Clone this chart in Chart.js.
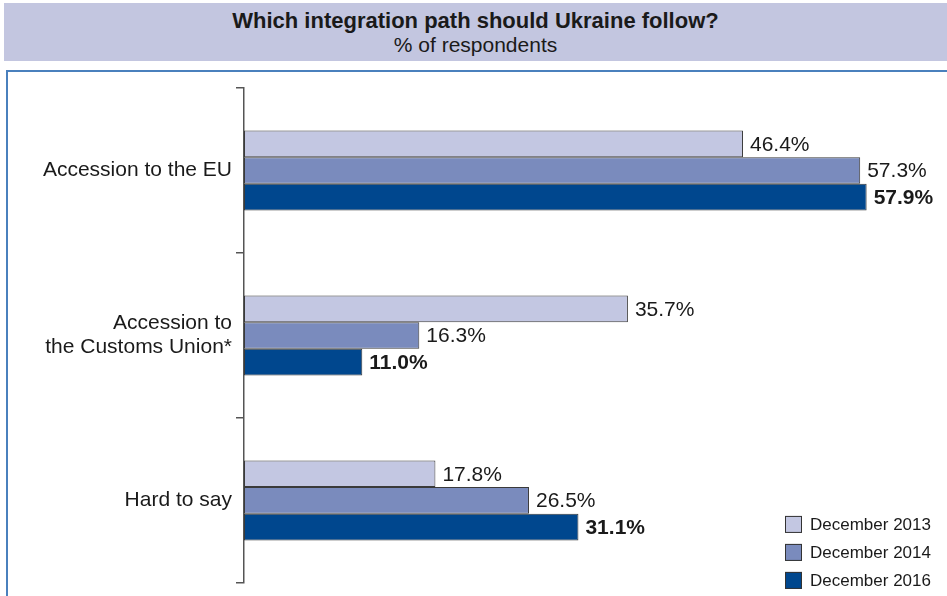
<!DOCTYPE html>
<html>
<head>
<meta charset="utf-8">
<script src="https://cdn.jsdelivr.net/npm/chart.js@4"></script>
<style>
  body { margin: 0; width: 947px; height: 596px; overflow: hidden; background: #fff; font-family: "Liberation Sans", Arial, sans-serif; position: relative; }
  .band { position: absolute; left: 4px; top: 3px; width: 943px; height: 58px; background: #c3c6e0; color: #1a1a1a; text-align: center; }
  .band .t1 { font-weight: bold; font-size: 22px; line-height: 24px; margin-top: 6px; }
  .band .t2 { font-size: 21px; line-height: 23px; }
  .panel { position: absolute; left: 6px; top: 70px; width: 960px; height: 560px; border: 2px solid #4a80bd; box-sizing: border-box; }
  #wrap { position: absolute; left: 0; top: 0; width: 947px; height: 599px; }
</style>
</head>
<body>
<div class="band">
  <div class="t1">Which integration path should Ukraine follow?</div>
  <div class="t2">% of respondents</div>
</div>
<div class="panel"></div>
<div id="wrap"><canvas id="chart"></canvas></div>
<script>
// data
const categories = ['Accession to the EU', ['Accession to', 'the Customs Union*'], 'Hard to say'];
const seriesLabels = ['December 2013', 'December 2014', 'December 2016'];
const dec2013 = [46.4, 35.7, 17.8];
const dec2014 = [57.3, 16.3, 26.5];
const dec2016 = [57.9, 11.0, 31.1];

const colors = ['#c3c7e2', '#7a8bbd', '#00478e'];
const FONT = '"Liberation Sans", Arial, sans-serif';

// value labels at the end of each bar
const valueLabels = {
    id: 'valueLabels',
    afterDatasetsDraw(chart) {
        const ctx = chart.ctx;
        ctx.save();
        ctx.fillStyle = '#1a1a1a';
        ctx.textBaseline = 'middle';
        ctx.textAlign = 'left';
        chart.data.datasets.forEach((ds, di) => {
            const meta = chart.getDatasetMeta(di);
            ctx.font = (di === 2 ? 'bold ' : '') + '21px ' + FONT;
            meta.data.forEach((bar, i) => {
                ctx.fillText(ds.data[i].toFixed(1) + '%', bar.x + 7, bar.y + 1);
            });
        });
        ctx.restore();
    }
};

// legend in the lower right corner of the plot
const cornerLegend = {
    id: 'cornerLegend',
    afterDraw(chart) {
        const ctx = chart.ctx;
        const area = chart.chartArea;
        const x0 = area.right - 158;
        ctx.save();
        ctx.font = '17px ' + FONT;
        ctx.textBaseline = 'middle';
        chart.data.datasets.forEach((ds, i) => {
            const cy = area.bottom - 59 + i * 28;
            ctx.fillStyle = ds.backgroundColor;
            ctx.fillRect(x0, cy - 8, 17, 17);
            ctx.strokeStyle = '#333';
            ctx.lineWidth = 1;
            ctx.strokeRect(x0 + 0.5, cy - 7.5, 16, 16);
            ctx.fillStyle = '#1a1a1a';
            ctx.fillText(ds.label, x0 + 25, cy + 1);
        });
        ctx.restore();
    }
};

const mk = (label, data, i) => ({
    label: label,
    data: data,
    backgroundColor: colors[i],
    borderColor: '#3a3a3a',
    borderWidth: 1,
    borderSkipped: false,
    barPercentage: 1,
    categoryPercentage: 0.485
});

new Chart(document.getElementById('chart'), {
    type: 'bar',
    data: {
        labels: categories,
        datasets: [
            mk(seriesLabels[0], dec2013, 0),
            mk(seriesLabels[1], dec2014, 1),
            mk(seriesLabels[2], dec2016, 2)
        ]
    },
    options: {
        indexAxis: 'y',
        responsive: true,
        maintainAspectRatio: false,
        animation: false,
        layout: { padding: { top: 88, bottom: 0, right: 4, left: 0 } },
        plugins: {
            legend: { display: false },
            tooltip: { enabled: false }
        },
        scales: {
            x: { display: false, min: 0, max: 65 },
            y: {
                afterFit(scale) { scale.width = 244; },
                grid: {
                    offset: true,
                    drawOnChartArea: false,
                    tickLength: 8,
                    color: '#555',
                    lineWidth: 1.5
                },
                border: { display: true, color: '#555', width: 1.5 },
                ticks: {
                    color: '#1a1a1a',
                    padding: 4,
                    font: { family: FONT, size: 21, lineHeight: 1.15 }
                }
            }
        }
    },
    plugins: [valueLabels, cornerLegend]
});
</script>
</body>
</html>
